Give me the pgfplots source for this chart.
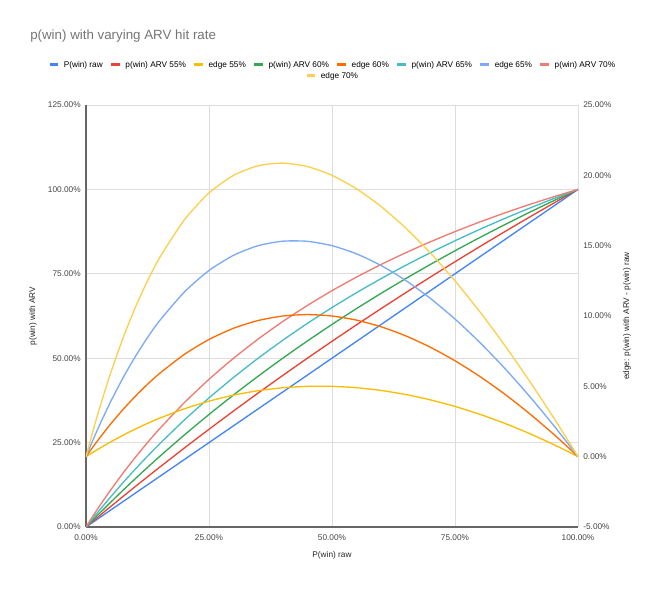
\documentclass[border=0pt]{standalone}
\usepackage{pgfplots}
\pgfplotsset{compat=1.18}
\usepackage{fontspec}
\setmainfont{Liberation Sans}
\definecolor{c1}{HTML}{4285F4}
\definecolor{c2}{HTML}{EA4335}
\definecolor{c3}{HTML}{FBBC04}
\definecolor{c4}{HTML}{34A853}
\definecolor{c5}{HTML}{FF6D01}
\definecolor{c6}{HTML}{46BDC6}
\definecolor{c7}{HTML}{7BAAF7}
\definecolor{c8}{HTML}{F07B72}
\definecolor{c9}{HTML}{FCD04F}
\definecolor{gridc}{HTML}{DDDDDD}
\definecolor{axc}{HTML}{666666}
\definecolor{tickc}{HTML}{444444}
\definecolor{titlec}{HTML}{757575}
\newcommand{\sm}{\fontsize{6.2}{7.5}\selectfont}
\pgfplotsset{
  base/.style={
    at={(0,0)}, anchor=south west, scale only axis,
    width=369pt, height=316.5pt,
    xmin=0, xmax=1,
    major tick length=0pt,
    tick label style={font=\sm, text=tickc},
    label style={font=\sm, text=black!85},
    every axis plot/.append style={line width=1pt, smooth, tension=0.4},
    legend image code/.code={\draw[#1, line width=2.2pt] (0pt,1.2pt) -- (6.4pt,1.2pt);},
    legend columns=-1, legend cell align=left,
    legend style={draw=none, fill=none, font=\sm, inner sep=0pt,
      nodes={inner sep=0.6pt},
      /tikz/every odd column/.append style={column sep=2.6pt},
      /tikz/every even column/.append style={column sep=4.6pt}},
  }
}
\begin{document}
\begin{tikzpicture}
\path[use as bounding box] (-64.5pt,-46.5pt) rectangle (430.5pt,395.25pt);
\begin{axis}[base,
  ymin=0, ymax=1.25,
  axis x line*=bottom, axis y line*=left,
  axis line style={-, axc, line width=0.9pt},
  grid=major, grid style={gridc, line width=0.6pt},
  xtick={0,0.25,0.5,0.75,1},
  xticklabels={0.00\%,25.00\%,50.00\%,75.00\%,100.00\%},
  ytick={0,0.25,0.5,0.75,1,1.25},
  yticklabels={0.00\%,25.00\%,50.00\%,75.00\%,100.00\%,125.00\%},
  xticklabel style={yshift=-2pt},
  yticklabel style={xshift=-0.5pt},
  xlabel={P(win) raw},
  xlabel style={at={(axis description cs:0.5,-0.0664)}, anchor=center},
  ylabel={p(win) with ARV},
  ylabel style={at={(axis description cs:-0.1077,0.5)}, anchor=center},
  legend style={at={(axis description cs:0.5,1)}, anchor=center, yshift=21pt},
]
\addlegendimage{color=c9}
\addplot[c1, forget plot] coordinates {(0,0) (1,1)};
\addplot[c2, forget plot] coordinates {(0,0) (0.01,0.012195) (0.02,0.02434) (0.03,0.036424) (0.05,0.06044) (0.075,0.090164) (0.1,0.11957) (0.125,0.148649) (0.15,0.17742) (0.2,0.23404) (0.25,0.28947) (0.3,0.34375) (0.35,0.39691) (0.4,0.44898) (0.45,0.5) (0.5,0.55) (0.55,0.59901) (0.6,0.64706) (0.65,0.69417) (0.7,0.74038) (0.75,0.78571) (0.8,0.83019) (0.85,0.87383) (0.9,0.91667) (0.95,0.95872) (0.98,0.983577) (1,1)};
\addplot[c4, forget plot] coordinates {(0,0) (0.01,0.014925) (0.02,0.02970) (0.03,0.044335) (0.05,0.07317) (0.075,0.108434) (0.1,0.14286) (0.125,0.176471) (0.15,0.20930) (0.2,0.27273) (0.25,0.33333) (0.3,0.39130) (0.35,0.44681) (0.4,0.5) (0.45,0.55102) (0.5,0.6) (0.55,0.64706) (0.6,0.69231) (0.65,0.73585) (0.7,0.77778) (0.75,0.81818) (0.8,0.85714) (0.85,0.89474) (0.9,0.93103) (0.95,0.96610) (0.98,0.986577) (1,1)};
\addplot[c6, forget plot] coordinates {(0,0) (0.01,0.018414) (0.02,0.03652) (0.03,0.054318) (0.05,0.08904) (0.075,0.130872) (0.1,0.17105) (0.125,0.209677) (0.15,0.24684) (0.2,0.31707) (0.25,0.38235) (0.3,0.44318) (0.35,0.5) (0.4,0.55319) (0.45,0.60309) (0.5,0.65) (0.55,0.69417) (0.6,0.73585) (0.65,0.77523) (0.7,0.8125) (0.75,0.84783) (0.8,0.88136) (0.85,0.91322) (0.9,0.94355) (0.95,0.97244) (0.98,0.98913) (1,1)};
\addplot[c8, forget plot] coordinates {(0,0) (0.01,0.023026) (0.02,0.04545) (0.03,0.067308) (0.05,0.10938) (0.075,0.159091) (0.1,0.20588) (0.125,0.25) (0.15,0.29167) (0.2,0.36842) (0.25,0.4375) (0.3,0.5) (0.35,0.55682) (0.4,0.60870) (0.45,0.65625) (0.5,0.7) (0.55,0.74038) (0.6,0.77778) (0.65,0.8125) (0.7,0.84483) (0.75,0.875) (0.8,0.90323) (0.85,0.92969) (0.9,0.95455) (0.95,0.97794) (0.98,0.991329) (1,1)};
\legend{edge 70\%}
\end{axis}
\begin{axis}[base,
  ymin=-0.05, ymax=0.25,
  axis x line=none, axis y line*=right,
  axis line style={-, draw=none},
  ytick={-0.05,0,0.05,0.1,0.15,0.2,0.25},
  yticklabels={-5.00\%,0.00\%,5.00\%,10.00\%,15.00\%,20.00\%,25.00\%},
  yticklabel style={xshift=0.5pt},
  ylabel={edge: p(win) with ARV - p(win) raw},
  ylabel style={at={(axis description cs:1.0996,0.5)}, anchor=center},
  legend style={at={(axis description cs:0.5,1)}, anchor=center, yshift=29.25pt},
]
\addlegendimage{color=c1}
\addlegendimage{color=c2}
\addlegendimage{color=c3}
\addlegendimage{color=c4}
\addlegendimage{color=c5}
\addlegendimage{color=c6}
\addlegendimage{color=c7}
\addlegendimage{color=c8}
\addplot[c3, forget plot] coordinates {(0,0) (0.01,0.002195) (0.02,0.00434) (0.03,0.006424) (0.05,0.01044) (0.075,0.015164) (0.1,0.01957) (0.125,0.023649) (0.15,0.02742) (0.2,0.03404) (0.25,0.03947) (0.3,0.04375) (0.35,0.04691) (0.4,0.04898) (0.45,0.05) (0.5,0.05) (0.55,0.04901) (0.6,0.04706) (0.65,0.04417) (0.7,0.04038) (0.75,0.03571) (0.8,0.03019) (0.85,0.02383) (0.9,0.01667) (0.95,0.00872) (0.98,0.003577) (1,0)};
\addplot[c5, forget plot] coordinates {(0,0) (0.01,0.004925) (0.02,0.00970) (0.03,0.014335) (0.05,0.02317) (0.075,0.033434) (0.1,0.04286) (0.125,0.051471) (0.15,0.05930) (0.2,0.07273) (0.25,0.08333) (0.3,0.09130) (0.35,0.09681) (0.4,0.1) (0.45,0.10102) (0.5,0.1) (0.55,0.09706) (0.6,0.09231) (0.65,0.08585) (0.7,0.07778) (0.75,0.06818) (0.8,0.05714) (0.85,0.04474) (0.9,0.03103) (0.95,0.01610) (0.98,0.006577) (1,0)};
\addplot[c7, forget plot] coordinates {(0,0) (0.01,0.008414) (0.02,0.01652) (0.03,0.024318) (0.05,0.03904) (0.075,0.055872) (0.1,0.07105) (0.125,0.084677) (0.15,0.09684) (0.2,0.11707) (0.25,0.13235) (0.3,0.14318) (0.35,0.15) (0.4,0.15319) (0.45,0.15309) (0.5,0.15) (0.55,0.14417) (0.6,0.13585) (0.65,0.12523) (0.7,0.1125) (0.75,0.09783) (0.8,0.08136) (0.85,0.06322) (0.9,0.04355) (0.95,0.02244) (0.98,0.00913) (1,0)};
\addplot[c9, forget plot] coordinates {(0,0) (0.01,0.013026) (0.02,0.02545) (0.03,0.037308) (0.05,0.05938) (0.075,0.084091) (0.1,0.10588) (0.125,0.125) (0.15,0.14167) (0.2,0.16842) (0.25,0.1875) (0.3,0.2) (0.35,0.20682) (0.4,0.20870) (0.45,0.20625) (0.5,0.2) (0.55,0.19038) (0.6,0.17778) (0.65,0.1625) (0.7,0.14483) (0.75,0.125) (0.8,0.10323) (0.85,0.07969) (0.9,0.05455) (0.95,0.02794) (0.98,0.011329) (1,0)};
\legend{P(win) raw, p(win) ARV 55\%, edge 55\%, p(win) ARV 60\%, edge 60\%, p(win) ARV 65\%, edge 65\%, p(win) ARV 70\%}
\end{axis}
\node[anchor=west, font=\fontsize{10}{12}\selectfont, text=titlec, inner sep=0pt] at (-42pt,368.25pt) {p(win) with varying ARV hit rate};
\end{tikzpicture}
\end{document}
